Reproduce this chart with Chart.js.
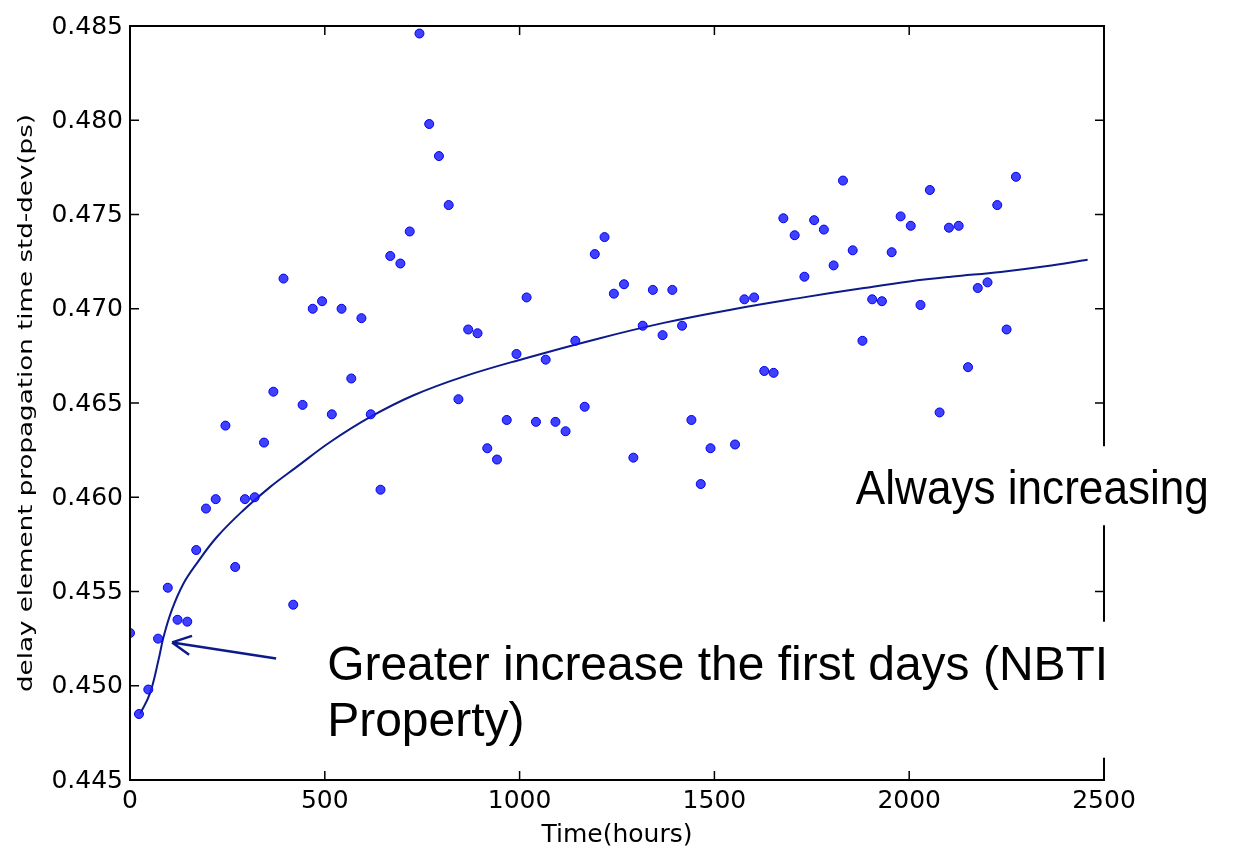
<!DOCTYPE html>
<html>
<head>
<meta charset="utf-8">
<script src="https://cdn.jsdelivr.net/npm/chart.js@4/dist/chart.umd.min.js"></script>
<style>
  html, body { margin: 0; padding: 0; background: #fff; }
  canvas { display: block; }
</style>
</head>
<body>
<canvas id="chart" width="1241" height="846"></canvas>
<script>
// measured points (hours, std-dev in ps)
const hours = [0, 23, 47, 72, 97, 122, 147, 170, 195, 220, 245, 270, 295, 320, 344, 368, 394, 419, 443, 469,
  493, 518, 543, 568, 594, 618, 643, 668, 694, 718, 743, 768, 793, 818, 843, 868, 892, 917, 942, 967,
  992, 1018, 1042, 1067, 1092, 1118, 1143, 1167, 1193, 1218, 1242, 1268, 1292, 1316, 1342, 1367, 1392, 1417, 1441, 1465,
  1490, 1553, 1577, 1602, 1628, 1652, 1677, 1706, 1731, 1756, 1781, 1806, 1830, 1855, 1880, 1905, 1930, 1955, 1978, 2004,
  2029, 2053, 2078, 2102, 2127, 2151, 2176, 2201, 2226, 2250, 2274];
const stdDev = [0.4528, 0.4485, 0.4498, 0.4525, 0.4552, 0.4535, 0.4534, 0.4572, 0.4594, 0.4599, 0.4638, 0.4563, 0.4599, 0.4600, 0.4629, 0.4656, 0.4716, 0.4543, 0.4649, 0.4700,
  0.4704, 0.4644, 0.4700, 0.4663, 0.4695, 0.4644, 0.4604, 0.4728, 0.4724, 0.4741, 0.4846, 0.4798, 0.4781, 0.4755, 0.4652, 0.4689, 0.4687, 0.4626, 0.4620, 0.4641,
  0.4676, 0.4706, 0.4640, 0.4673, 0.4640, 0.4635, 0.4683, 0.4648, 0.4729, 0.4738, 0.4708, 0.4713, 0.4621, 0.4691, 0.4710, 0.4686, 0.4710, 0.4691, 0.4641, 0.4607,
  0.4626, 0.4628, 0.4705, 0.4706, 0.4667, 0.4666, 0.4748, 0.4739, 0.4717, 0.4747, 0.4742, 0.4723, 0.4768, 0.4731, 0.4683, 0.4705, 0.4704, 0.4730, 0.4749, 0.4744,
  0.4702, 0.4763, 0.4645, 0.4743, 0.4744, 0.4669, 0.4711, 0.4714, 0.4755, 0.4689, 0.4770];

// fitted trend curve
const fitHours = [26, 51, 73, 86, 107, 137, 171, 223, 291, 360, 428, 514, 617, 728, 856, 1011, 1199, 1370, 1542, 1713, 1884, 2000, 2107, 2235, 2350, 2458];
const fitStdDev = [0.44852, 0.44958, 0.45135, 0.45258, 0.45400, 0.45541, 0.45648, 0.45789, 0.45931, 0.46055, 0.46161, 0.46293, 0.46426, 0.46541, 0.46640, 0.46735,
  0.46840, 0.46925, 0.46995, 0.47055, 0.47110, 0.47145, 0.47170, 0.47195, 0.47225, 0.47260];

const xTicks = [0, 500, 1000, 1500, 2000, 2500];
const yTicks = [0.445, 0.450, 0.455, 0.460, 0.465, 0.470, 0.475, 0.480, 0.485];

const xTitle = "Time(hours)";
const yTitle = "delay element propagation time std-dev(ps)";
const noteRight = "Always increasing";
const noteLeft = ["Greater increase the first days (NBTI", "Property)"];

const curveColor = "#0c1a8a";

function fitText(ctx, text, x, y, font, width, align) {
  ctx.save();
  ctx.font = font;
  const w = ctx.measureText(text).width;
  const k = width / w;
  ctx.translate(x, y);
  ctx.scale(k, 1);
  ctx.textAlign = align || "left";
  ctx.fillText(text, 0, 0);
  ctx.restore();
}

const framePlugin = {
  id: "frame",
  afterDatasetsDraw(chart) {
    const { ctx, chartArea: a, scales: { x, y } } = chart;
    ctx.save();
    // frame
    ctx.strokeStyle = "#000";
    ctx.lineWidth = 2;
    ctx.strokeRect(a.left, a.top, a.right - a.left, a.bottom - a.top);
    // inward ticks on all sides
    ctx.lineWidth = 1.5;
    ctx.beginPath();
    xTicks.forEach(v => {
      const px = x.getPixelForValue(v);
      ctx.moveTo(px, a.bottom); ctx.lineTo(px, a.bottom - 9);
      ctx.moveTo(px, a.top); ctx.lineTo(px, a.top + 9);
    });
    yTicks.forEach(v => {
      const py = y.getPixelForValue(v);
      ctx.moveTo(a.left, py); ctx.lineTo(a.left + 9, py);
      ctx.moveTo(a.right, py); ctx.lineTo(a.right - 9, py);
    });
    ctx.stroke();

    // tick labels
    ctx.fillStyle = "#000";
    ctx.font = "25px 'DejaVu Sans'";
    ctx.textBaseline = "alphabetic";
    ctx.textAlign = "center";
    xTicks.forEach(v => {
      ctx.fillText(String(v), x.getPixelForValue(v), a.bottom + 28);
    });
    ctx.textAlign = "right";
    ctx.textBaseline = "middle";
    yTicks.forEach(v => {
      ctx.fillText(v.toFixed(3), a.left - 7, y.getPixelForValue(v) + 1);
    });

    // axis titles
    ctx.textBaseline = "alphabetic";
    ctx.textAlign = "center";
    ctx.fillText(xTitle, (a.left + a.right) / 2, 842);
    ctx.save();
    ctx.translate(32, (a.top + a.bottom) / 2);
    ctx.rotate(-Math.PI / 2);
    fitText(ctx, yTitle, 0, 0, "20px 'DejaVu Sans'", 578, "center");
    ctx.restore();

    // annotation: always increasing
    const rx = x.getPixelForValue(1863), ry = y.getPixelForValue(0.45963);
    ctx.fillStyle = "#fff";
    ctx.fillRect(rx - 6, ry - 58, chart.width - rx + 6, 79);
    ctx.fillStyle = "#000";
    fitText(ctx, noteRight, rx, ry, "48px 'Liberation Sans', Arial", 353, "left");

    // annotation: greater increase
    const gx = x.getPixelForValue(506), gy = y.getPixelForValue(0.45032);
    ctx.fillStyle = "#fff";
    ctx.fillRect(gx - 6, gy - 58, 790, 136);
    ctx.fillStyle = "#000";
    fitText(ctx, noteLeft[0], gx, gy, "48px 'Liberation Sans', Arial", 781, "left");
    ctx.font = "48px 'Liberation Sans', Arial";
    ctx.textAlign = "left";
    ctx.fillText(noteLeft[1], gx, gy + 56);

    // arrow
    const tx = x.getPixelForValue(108), ty = y.getPixelForValue(0.4523);
    const sx = x.getPixelForValue(375), sy = y.getPixelForValue(0.45145);
    const ang = Math.atan2(sy - ty, sx - tx);
    ctx.strokeStyle = curveColor;
    ctx.lineWidth = 2.5;
    ctx.beginPath();
    ctx.moveTo(sx, sy); ctx.lineTo(tx, ty);
    [-0.47, 0.47].forEach(d => {
      ctx.moveTo(tx, ty);
      ctx.lineTo(tx + 21 * Math.cos(ang + d), ty + 21 * Math.sin(ang + d));
    });
    ctx.stroke();
    ctx.restore();
  }
};

const ctx = document.getElementById("chart");

new Chart(ctx, {
  type: "scatter",
  data: {
    datasets: [
      {
        label: "std-dev",
        data: hours.map((h, i) => ({ x: h, y: stdDev[i] })),
        pointRadius: 4.5,
        pointBackgroundColor: "rgba(30,30,255,0.85)",
        pointBorderColor: "#0000ee",
        pointBorderWidth: 1,
        order: 1
      },
      {
        label: "fit",
        data: fitHours.map((h, i) => ({ x: h, y: fitStdDev[i] })),
        showLine: true,
        pointRadius: 0,
        borderColor: curveColor,
        borderWidth: 2,
        tension: 0.4,
        order: 2
      }
    ]
  },
  options: {
    responsive: false,
    animation: false,
    events: [],
    layout: { padding: { left: 0, top: 26, right: 137, bottom: 0 } },
    plugins: { legend: { display: false }, tooltip: { enabled: false } },
    scales: {
      x: {
        type: "linear", min: 0, max: 2500,
        ticks: { display: false },
        grid: { display: false },
        border: { display: false },
        afterFit: s => { s.height = 66; }
      },
      y: {
        min: 0.445, max: 0.485,
        ticks: { display: false },
        grid: { display: false },
        border: { display: false },
        afterFit: s => { s.width = 130; }
      }
    }
  },
  plugins: [framePlugin]
});
</script>
</body>
</html>
